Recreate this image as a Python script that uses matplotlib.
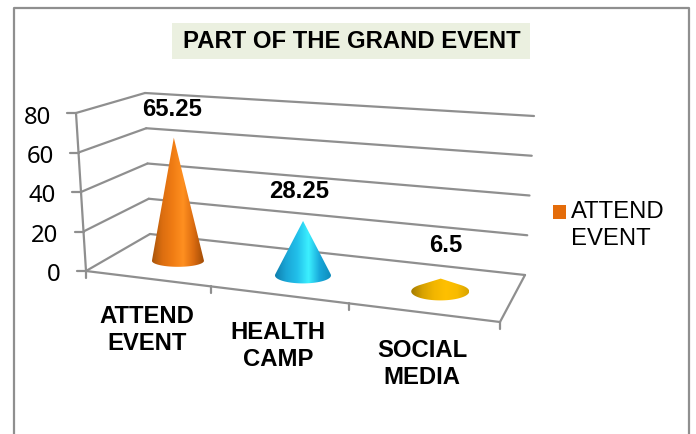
import numpy as np
import matplotlib
matplotlib.use("Agg")
import matplotlib.pyplot as plt
from matplotlib.colors import LinearSegmentedColormap
from matplotlib.patches import Polygon, Rectangle, Patch

# ---- data ----
title = "PART OF THE GRAND EVENT"
categories = ["ATTEND\nEVENT", "HEALTH\nCAMP", "SOCIAL\nMEDIA"]
values = [65.25, 28.25, 6.5]
value_labels = ["65.25", "28.25", "6.5"]
y_ticks = [0, 20, 40, 60, 80]
series_name = "ATTEND\nEVENT"

# ---- style ----
W, H = 696, 435
GREY = "#8f8f8f"
SANS = "Liberation Sans"
FS = 17.2
cone_colors = [
    ["#a9540a", "#dc6e10", "#f07c14", "#ff9020", "#dc6c10", "#a04c06"],
    ["#0f7fae", "#1aa6d6", "#22c0ea", "#3cf0ff", "#18a8da", "#0f8cbc"],
    ["#a37b00", "#d8a200", "#f2b600", "#ffc000", "#f8bb00", "#d8a400"],
]
base_radii = [(26, 6), (28, 8), (29, 9)]
cone_nudge = (1.5, 1.5)
label_offsets = [(-2, -29), (-4, -30), (5, -34)]
cat_label_xy = [(147, 330), (278, 346), (422, 364)]

# box corners in pixels: (depth, side, top)
corners = {
    "fl0": (86, 272), "fr0": (500, 323), "bl0": (150, 235), "br0": (525, 276),
    "fl1": (76, 114), "fr1": (509, 163), "bl1": (145, 94), "br1": (534, 117),
}
VMAX = 80
PERSP = 1.15


def project(u, v, z):
    """u along categories 0..1, v value, z depth 0..1 -> pixel coords."""
    s = u / (u + PERSP * (1 - u)) if 0 < u < 1 else u
    t = v / VMAX
    c = {k: np.array(p, float) for k, p in corners.items()}
    front0 = c["fl0"] + (c["fr0"] - c["fl0"]) * s
    back0 = c["bl0"] + (c["br0"] - c["bl0"]) * s
    front1 = c["fl1"] + (c["fr1"] - c["fl1"]) * s
    back1 = c["bl1"] + (c["br1"] - c["bl1"]) * s
    p0 = front0 + (back0 - front0) * z
    p1 = front1 + (back1 - front1) * z
    return p0 + (p1 - p0) * t


def seg(ax, a, b, lw=1.6, color=GREY):
    ax.plot([a[0], b[0]], [a[1], b[1]], color=color, lw=lw, solid_capstyle="round", zorder=2)


fig = plt.figure(figsize=(W / 100, H / 100), dpi=100, facecolor="white")
ax = fig.add_axes([0, 0, 1, 1])
ax.set_xlim(0, W)
ax.set_ylim(H, 0)
ax.axis("off")

# outer frame (open at the bottom)
ax.plot([14, 14, 688.5, 688.5], [H, 9, 9, H], color=GREY, lw=1.6, zorder=1)

# title
ax.add_patch(Rectangle((172, 24), 358, 36, fc="#ebf0e0", ec="none", zorder=1))
ax.text(352, 41, title, ha="center", va="center", family=SANS, weight="bold",
        fontsize=FS, color="black", zorder=3)

# walls and floor
for v in y_ticks:
    a, b, c = project(0, v, 0), project(0, v, 1), project(1, v, 1)
    seg(ax, a, b)
    seg(ax, b, c)
    seg(ax, a, a + np.array([-9, 0]))
    ax.text(a[0] - 25, a[1] + 3.5, str(v), ha="right", va="center", family="Noto Sans",
            fontsize=17.2, color="black", zorder=3)
seg(ax, project(0, 0, 0), project(0, VMAX, 0))
seg(ax, project(0, 0, 0), project(1, 0, 0))
seg(ax, project(1, 0, 0), project(1, 0, 1))
for i in range(len(categories) + 1):
    p = project(i / len(categories), 0, 0)
    seg(ax, p, p + np.array([0, 7]))

# cones
for i, val in enumerate(values):
    u = (i + 0.5) / len(values)
    base = project(u, 0, 0.5) + np.array(cone_nudge)
    apex = project(u, val, 0.5) + np.array(cone_nudge)
    a, b = base_radii[i]
    h = base[1] - apex[1]
    ty = b * b / h
    th = np.arcsin(min(ty / b, 1))
    angles = np.linspace(-th, np.pi + th, 80)  # y axis points down on screen
    ell = np.column_stack([base[0] + a * np.cos(angles), base[1] + b * np.sin(angles)])
    poly = Polygon(np.vstack([apex, ell]), closed=True, transform=ax.transData,
                   fc="none", ec="none")
    ax.add_patch(poly)
    cmap = LinearSegmentedColormap.from_list(f"cone{i}", cone_colors[i])
    grad = np.linspace(0, 1, 256).reshape(1, -1)
    top = min(apex[1], base[1] - b) - 1
    im = ax.imshow(grad, cmap=cmap, aspect="auto", interpolation="bilinear", zorder=4,
                   extent=[base[0] - a, base[0] + a, base[1] + b + 1, top])
    im.set_clip_path(poly)
    dx, dy = label_offsets[i]
    ax.text(apex[0] + dx, apex[1] + dy, value_labels[i], ha="center", va="center",
            family=SANS, weight="bold", fontsize=FS, color="black", zorder=5)
ax.set_xlim(0, W)
ax.set_ylim(H, 0)

# category labels
for lab, (x, y) in zip(categories, cat_label_xy):
    ax.text(x, y, lab, ha="center", va="center", family=SANS, weight="bold",
            fontsize=FS, color="black", linespacing=1.17, zorder=3)

# legend
leg = ax.legend(handles=[Patch(fc="#e46c0a", ec="none", label=series_name)],
                loc="upper left", bbox_to_anchor=(553 / W, 1 - 201 / H), frameon=False,
                handlelength=0.55, handleheight=0.55, handletextpad=0.2, borderpad=0,
                borderaxespad=0, labelspacing=0,
                prop={"family": SANS, "size": FS})
leg.get_texts()[0].set_linespacing(1.3)
leg.legend_handles[0].set_y(leg.legend_handles[0].get_y() + 9)

fig.savefig("out.png", dpi=100, facecolor="white")
